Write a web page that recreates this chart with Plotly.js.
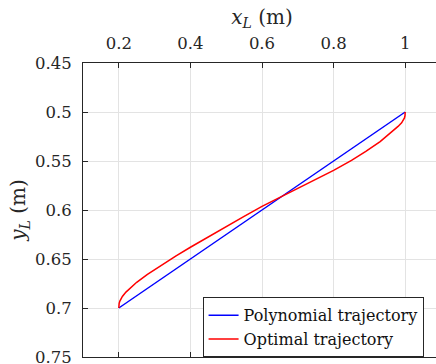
<!DOCTYPE html>
<html>
<head>
<meta charset="utf-8">
<script src="https://cdn.plot.ly/plotly-3.0.1.min.js"></script>
<style>
html,body{margin:0;padding:0;overflow:hidden;background:#fff;}
#chart{width:446px;height:364px;}
</style>
</head>
<body>
<div id="chart"></div>
<script>
// Polynomial trajectory (straight line)
const polyX = [0.2, 1.0];
const polyY = [0.7, 0.5];

// Optimal trajectory
const optX = [0.2, 0.2003, 0.201, 0.203, 0.206, 0.21, 0.22, 0.235, 0.25, 0.28, 0.32, 0.36, 0.40, 0.45, 0.50, 0.55, 0.60, 0.654, 0.70, 0.75, 0.80, 0.85, 0.89, 0.93, 0.96, 0.98, 0.99, 0.995, 0.998, 0.9995, 1.0];
const optY = [0.7, 0.6969, 0.6953, 0.6930, 0.6905, 0.6882, 0.6838, 0.6785, 0.6738, 0.6656, 0.6558, 0.6468, 0.6380, 0.6272, 0.6168, 0.6065, 0.5963, 0.5865, 0.5784, 0.5690, 0.5595, 0.5493, 0.5403, 0.5302, 0.5214, 0.5147, 0.5110, 0.5085, 0.5061, 0.5036, 0.5];

const xTicks = [0.2, 0.4, 0.6, 0.8, 1];
const xTickText = ['0.2', '0.4', '0.6', '0.8', '1'];
const yTicks = [0.45, 0.5, 0.55, 0.6, 0.65, 0.7, 0.75];
const yTickText = ['0.45', '0.5', '0.55', '0.6', '0.65', '0.7', '0.75'];

const serif = '"DejaVu Serif"';
const dark = '#262626';

const traces = [
  {x: polyX, y: polyY, type: 'scatter', mode: 'lines', name: 'Polynomial trajectory',
   line: {color: '#0000ff', width: 1.5}},
  {x: optX, y: optY, type: 'scatter', mode: 'lines', name: 'Optimal trajectory',
   line: {color: '#ff0000', width: 1.5}}
];

const layout = {
  width: 446, height: 364,
  margin: {l: 83, r: 5, t: 63, b: 7},
  paper_bgcolor: '#fff', plot_bgcolor: '#fff',
  font: {family: serif, color: dark, size: 16.5},
  showlegend: true,
  legend: {
    x: 0.334, y: 0.203, xanchor: 'left', yanchor: 'top',
    bgcolor: '#fff', bordercolor: dark, borderwidth: 1,
    font: {family: serif, size: 16, color: '#111'},
    tracegroupgap: 0, itemwidth: 30
  },
  xaxis: {
    side: 'top', range: [0.1, 1.1],
    tickvals: xTicks, ticktext: xTickText,
    ticks: 'inside', ticklen: 5, tickcolor: dark, tickwidth: 1,
    showline: true, linecolor: dark, linewidth: 1, mirror: 'ticks',
    showgrid: true, gridcolor: '#e3e3e3', gridwidth: 1, zeroline: false,
    tickfont: {family: serif, size: 16.5, color: dark},
    ticklabelstandoff: 6, ticklabeloverflow: 'allow',
    title: {text: '<i>x</i><sub><i>L</i></sub> (m)', font: {family: serif, size: 20, color: dark}, standoff: 4}
  },
  yaxis: {
    range: [0.75, 0.45],
    tickvals: yTicks, ticktext: yTickText,
    ticks: 'inside', ticklen: 5, tickcolor: dark, tickwidth: 1,
    showline: true, linecolor: dark, linewidth: 1, mirror: 'ticks',
    showgrid: true, gridcolor: '#e3e3e3', gridwidth: 1, zeroline: false,
    tickfont: {family: serif, size: 16.5, color: dark},
    ticklabelstandoff: 7, ticklabeloverflow: 'allow',
    title: {text: '<i>y</i><sub><i>L</i></sub> (m)', font: {family: serif, size: 20, color: dark}, standoff: 3}
  }
};

Plotly.newPlot('chart', traces, layout, {displayModeBar: false, staticPlot: true});
</script>
</body>
</html>
